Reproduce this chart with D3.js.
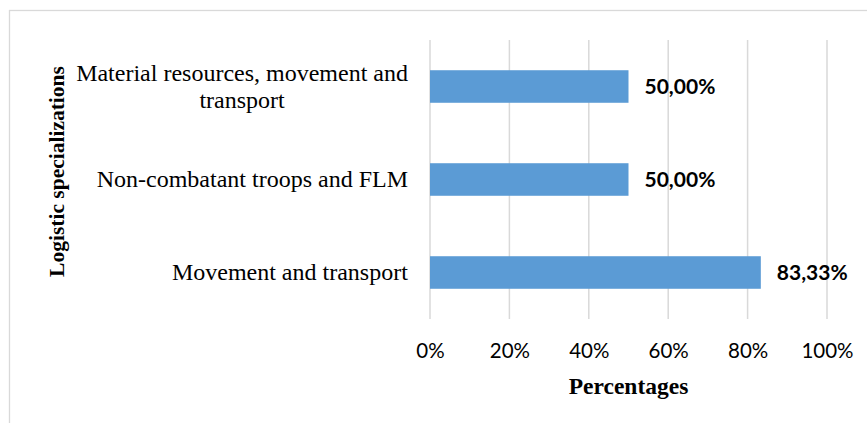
<!DOCTYPE html>
<html>
<head>
<meta charset="utf-8">
<script src="https://d3js.org/d3.v7.min.js"></script>
<style>
  body { margin: 0; background: #fff; }
</style>
</head>
<body>
<svg width="867" height="423"></svg>
<script>
var categories = ["Material resources, movement and transport", "Non-combatant troops and FLM", "Movement and transport"];
var categoryLines = [["Material resources, movement and", "transport"], ["Non-combatant troops and FLM"], ["Movement and transport"]];
var values = [50.00, 50.00, 83.33];
var valueLabels = ["50,00%", "50,00%", "83,33%"];
var xTicks = [0, 20, 40, 60, 80, 100];

var margin = { top: 40, left: 430 },
  width = 397,
  height = 279;

var svg = d3.select("svg");

// outer chart frame
svg.append("rect")
  .attr("x", 9.5).attr("y", 10.5)
  .attr("width", 900).attr("height", 500)
  .attr("fill", "none")
  .attr("stroke", "#d9d9d9")
  .attr("stroke-width", 1.3);

var g = svg.append("g")
  .attr("transform", "translate(" + margin.left + "," + margin.top + ")");

var x = d3.scaleLinear().domain([0, 100]).range([0, width]);
var y = d3.scaleBand().domain(categories).range([0, height]).paddingInner(0.65).paddingOuter(0.325);

// gridlines
g.selectAll(".grid")
  .data(xTicks)
  .enter()
  .append("line")
  .attr("class", "grid")
  .attr("x1", function (d) { return x(d); })
  .attr("x2", function (d) { return x(d); })
  .attr("y1", 0)
  .attr("y2", height)
  .attr("stroke", "#d9d9d9")
  .attr("stroke-width", 1.5);

// x axis labels
var xAxis = d3.axisBottom(x).tickValues(xTicks).tickSize(0).tickPadding(24)
  .tickFormat(function (d) { return d + "%"; });
var xa = g.append("g")
  .attr("transform", "translate(0," + height + ")")
  .call(xAxis);
xa.select(".domain").remove();
xa.selectAll("text")
  .attr("font-family", "Lato, 'Open Sans', sans-serif")
  .attr("font-size", "20.5px")
  .attr("fill", "#000");

// bars
g.selectAll(".bar")
  .data(values)
  .enter()
  .append("rect")
  .attr("class", "bar")
  .attr("x", x(0))
  .attr("y", function (d, i) { return y(categories[i]); })
  .attr("width", function (d) { return x(d) - x(0); })
  .attr("height", y.bandwidth())
  .attr("fill", "#5b9bd5");

// value labels
g.selectAll(".val")
  .data(values)
  .enter()
  .append("text")
  .attr("class", "val")
  .attr("x", function (d) { return x(d) + 16; })
  .attr("y", function (d, i) { return y(categories[i]) + y.bandwidth() / 2; })
  .attr("dy", "0.35em")
  .attr("font-family", "Lato, 'Open Sans', sans-serif")
  .attr("font-weight", "bold")
  .attr("font-size", "21px")
  .attr("fill", "#000")
  .text(function (d, i) { return valueLabels[i]; });

// category labels
var fs = 24, lh = 27;
var cat = g.selectAll(".cat")
  .data(categories)
  .enter()
  .append("text")
  .attr("class", "cat")
  .attr("text-anchor", "middle")
  .attr("font-family", "'Liberation Serif', 'Times New Roman', serif")
  .attr("font-size", fs + "px")
  .attr("fill", "#000")
  .attr("y", function (d) { return y(d) + y.bandwidth() / 2; });

cat.each(function (d, i) {
  var lines = categoryLines[i];
  var t = d3.select(this);
  var y0 = -(lines.length - 1) * lh / 2 + fs * 0.33;
  lines.forEach(function (l, j) {
    t.append("tspan")
      .attr("x", 0)
      .attr("dy", j === 0 ? y0 : lh)
      .text(l);
  });
  // right edge 22px left of the axis, lines centred on each other
  var bb = this.getBBox();
  t.selectAll("tspan").attr("x", -22 - bb.width / 2);
});

// axis titles
svg.append("text")
  .attr("x", margin.left + width / 2)
  .attr("y", 394)
  .attr("text-anchor", "middle")
  .attr("font-family", "'Liberation Serif', 'Times New Roman', serif")
  .attr("font-weight", "bold")
  .attr("font-size", "23.5px")
  .attr("fill", "#000")
  .text("Percentages");

svg.append("text")
  .attr("transform", "translate(64," + 171.5 + ") rotate(-90)")
  .attr("text-anchor", "middle")
  .attr("font-family", "'Liberation Serif', 'Times New Roman', serif")
  .attr("font-weight", "bold")
  .attr("font-size", "21.5px")
  .attr("fill", "#000")
  .text("Logistic specializations");
</script>
</body>
</html>
